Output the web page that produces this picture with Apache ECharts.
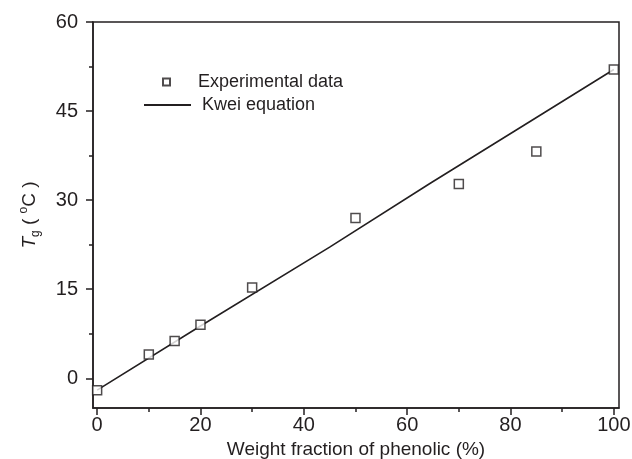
<!DOCTYPE html>
<html>
<head>
<meta charset="utf-8">
<script src="https://cdn.jsdelivr.net/npm/echarts@6/dist/echarts.min.js"></script>
<style>html,body{margin:0;padding:0;background:#fff}#c{width:632px;height:459px}</style>
</head>
<body>
<div id="c"></div>
<script>
// Experimental data
var expX = [0, 10, 15, 20, 30, 50, 70, 85, 100];
var expY = [-2.0, 4.0, 6.3, 9.0, 15.3, 27.0, 32.7, 38.2, 52.0];
// Kwei equation curve
var kweiX = [0, 20, 45, 64.4, 83.7, 100];
var kweiY = [-2.0, 8.8, 22.1, 32.8, 43.2, 52.0];
// ticks
var xMajor = [0, 20, 40, 60, 80, 100];
var xMinor = [10, 30, 50, 70, 90];
var yMajor = [0, 15, 30, 45, 60];
var yMinor = [7.5, 22.5, 37.5, 52.5];
var xName = 'Weight fraction of phenolic (%)';
var seriesNames = ['Experimental data', 'Kwei equation'];

var ink = '#231f20';
var font = 'Liberation Sans, Arial, sans-serif';
var chart = echarts.init(document.getElementById('c'));
function zip(a, b) { return a.map(function (v, i) { return [v, b[i]]; }); }

chart.setOption({
  animation: false,
  backgroundColor: '#fff',
  grid: { left: 93, right: 13, top: 22, bottom: 51, containLabel: false, outerBoundsMode: 'none',
    show: true, borderColor: ink, borderWidth: 1.5, backgroundColor: 'transparent' },
  legend: [
    { data: [seriesNames[0]], left: 162, top: 73, padding: 0, itemWidth: 7, itemHeight: 7,
      textStyle: { fontFamily: font, fontSize: 18, color: ink, padding: [0, 0, 0, 23] } },
    { data: [seriesNames[1]], left: 143, top: 96, padding: 0, itemWidth: 47, itemHeight: 1.6,
      textStyle: { fontFamily: font, fontSize: 18, color: ink, padding: [0, 0, 0, 6] } }
  ],
  xAxis: [
    { type: 'value', min: -0.8, max: 101, position: 'bottom',
      name: xName, nameLocation: 'middle', nameGap: 30,
      nameTextStyle: { fontFamily: font, fontSize: 19, color: ink },
      axisLine: { show: true, onZero: false, lineStyle: { color: ink, width: 1.5 } },
      axisTick: { show: true, length: 7, customValues: xMajor, lineStyle: { color: ink, width: 1.5 } },
      axisLabel: { customValues: xMajor, margin: 7, fontFamily: font, fontSize: 20, color: ink },
      splitLine: { show: false } },
    { type: 'value', min: -0.8, max: 101, position: 'bottom', gridIndex: 0,
      axisLine: { show: false, onZero: false },
      axisTick: { show: true, length: 4, customValues: xMinor, lineStyle: { color: ink, width: 1.5 } },
      axisLabel: { show: false }, splitLine: { show: false } }
  ],
  yAxis: [
    { type: 'value', min: -5, max: 60, position: 'left',
      name: '{i|T}{sub|g}{n| ( }{sup|o}{n|C )}', nameLocation: 'middle', nameGap: 51, nameRotate: 90,
      nameTextStyle: { fontFamily: font, fontSize: 19, color: ink,
        rich: {
          i: { fontFamily: font, fontSize: 19, fontStyle: 'italic', color: ink, lineHeight: 24, verticalAlign: 'middle' },
          sub: { fontFamily: font, fontSize: 12, color: ink, lineHeight: 24, verticalAlign: 'bottom', padding: [8, 0, 0, 0] },
          sup: { fontFamily: font, fontSize: 12, color: ink, lineHeight: 24, verticalAlign: 'top', padding: [0, 0, 6, 0] },
          n: { fontFamily: font, fontSize: 19, color: ink, lineHeight: 24, verticalAlign: 'middle' }
        } },
      axisLine: { show: true, onZero: false, lineStyle: { color: ink, width: 1.5 } },
      axisTick: { show: true, length: 7, customValues: yMajor, lineStyle: { color: ink, width: 1.5 } },
      axisLabel: { customValues: yMajor, margin: 15, fontFamily: font, fontSize: 20, color: ink },
      splitLine: { show: false } },
    { type: 'value', min: -5, max: 60, position: 'left', gridIndex: 0,
      axisLine: { show: false, onZero: false },
      axisTick: { show: true, length: 4, customValues: yMinor, lineStyle: { color: ink, width: 1.5 } },
      axisLabel: { show: false }, splitLine: { show: false } }
  ],
  series: [
    { name: seriesNames[1], type: 'line', data: zip(kweiX, kweiY), showSymbol: false, symbol: 'none',
      legendIcon: 'rect',
      lineStyle: { color: ink, width: 1.6 }, itemStyle: { color: ink }, z: 2 },
    { name: seriesNames[0], type: 'scatter', data: zip(expX, expY), symbol: 'rect', symbolSize: 9,
      itemStyle: { color: '#fff', borderColor: ink, borderWidth: 1.5 }, z: 3 }
  ]
});
</script>
</body>
</html>
